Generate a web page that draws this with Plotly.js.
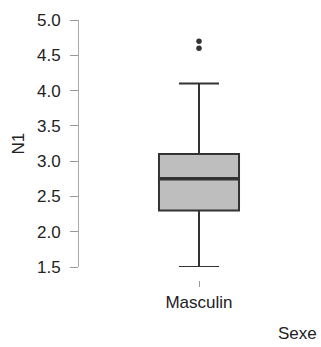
<!DOCTYPE html>
<html><head><meta charset="utf-8">
<script src="https://cdn.plot.ly/plotly-3.0.1.min.js"></script>
<style>html,body{margin:0;padding:0;background:#fff}#chart{width:321px;height:347px}</style>
</head><body><div id="chart"></div>
<script>
const categories = ['Masculin'];
const lowerWhisker = [1.5];
const q1 = [2.3];
const median = [2.75];
const q3 = [3.1];
const upperWhisker = [4.1];
const outlierCats = ['Masculin', 'Masculin'];
const outlierValues = [4.6, 4.7];
const yTicks = [1.5, 2.0, 2.5, 3.0, 3.5, 4.0, 4.5, 5.0];
const yTickText = ['1.5', '2.0', '2.5', '3.0', '3.5', '4.0', '4.5', '5.0'];

const font = {family: 'Liberation Sans, Arial, sans-serif', size: 17, color: '#222'};
const boxWidth = 0.667;

const traces = [
  {type: 'box', x: categories, q1: q1, median: median, q3: q3,
   lowerfence: lowerWhisker, upperfence: upperWhisker,
   width: boxWidth, whiskerwidth: 0.5, fillcolor: '#bebebe',
   line: {color: '#333', width: 2}, boxpoints: false, hoverinfo: 'skip'},
  {type: 'box', x: categories, q1: median, median: median, q3: median,
   lowerfence: median, upperfence: median,
   width: boxWidth, whiskerwidth: 0, fillcolor: 'rgba(0,0,0,0)',
   line: {color: '#333', width: 3.5}, boxpoints: false, hoverinfo: 'skip'},
  {type: 'scatter', mode: 'markers', x: outlierCats, y: outlierValues,
   marker: {color: '#333', size: 5.5}, hoverinfo: 'skip'}
];

const layout = {
  width: 321, height: 347,
  margin: {l: 79, r: 2, t: 20, b: 67},
  paper_bgcolor: '#fff', plot_bgcolor: '#fff',
  showlegend: false, font: font,
  xaxis: {type: 'category', range: [-1, 1], showline: false, showgrid: false, zeroline: false,
          ticks: 'outside', ticklen: 6, tickcolor: '#999', tickwidth: 1,
          anchor: 'free', position: 0, tickfont: font, ticklabelstandoff: 1},
  yaxis: {range: [1.5, 5.0], domain: [0.05, 1], showgrid: false, zeroline: false,
          showline: true, linecolor: '#aaa', linewidth: 1,
          ticks: 'outside', ticklen: 8, tickcolor: '#999', tickwidth: 1,
          tickvals: yTicks, ticktext: yTickText, tickfont: font, ticklabelstandoff: 6},
  annotations: [
    {text: 'N1', xref: 'paper', yref: 'paper', x: 0, y: 0.525, xshift: -61,
     textangle: -90, showarrow: false, font: font, xanchor: 'center', yanchor: 'middle'},
    {text: 'Sexe', xref: 'paper', yref: 'paper', x: 1, y: 0, yshift: -53,
     showarrow: false, font: font, xanchor: 'right', yanchor: 'middle'}
  ]
};

Plotly.newPlot('chart', traces, layout, {displayModeBar: false, staticPlot: true});
</script></body></html>
